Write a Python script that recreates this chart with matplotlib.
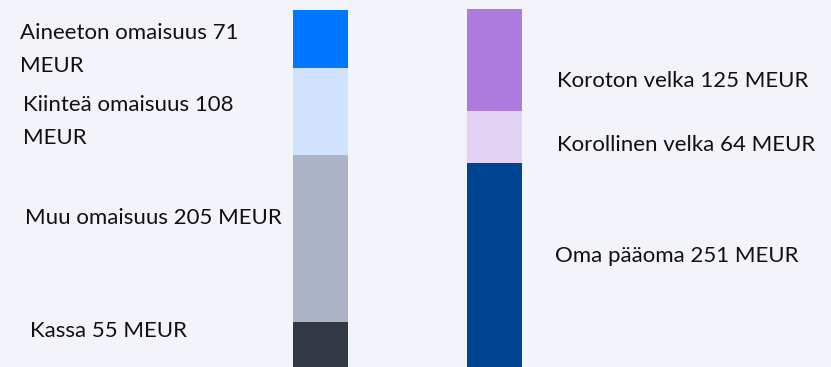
import matplotlib
matplotlib.use('Agg')
import matplotlib.pyplot as plt

# Balance sheet split, MEUR
assets = ['Kassa', 'Muu omaisuus', 'Kiinteä omaisuus', 'Aineeton omaisuus']
asset_values = [55, 205, 108, 71]
asset_colors = ['#323844', '#adb3c6', '#cfe3ff', '#0077ff']

liabilities = ['Oma pääoma', 'Korollinen velka', 'Koroton velka']
liability_values = [251, 64, 125]
liability_colors = ['#004592', '#e4d2f4', '#ad7ae0']

bg = '#f3f4f9'
W, H = 831, 367

fig = plt.figure(figsize=(W / 100, H / 100), dpi=100, facecolor=bg)
ax = fig.add_axes([0, 0, 1, 1])
ax.set_facecolor(bg)
ax.axis('off')

# bar centres at 320.5 px and 494.5 px, 55 px wide
step = 174.0
bar_w = 55 / step
ax.set_xlim(-320.5 / step, 1 + (W - 494.5) / step)
ax.set_ylim(0, 451)

def stack(x, names, values, colors):
    bottom = 0
    for n, v, c in zip(names, values, colors):
        ax.bar(x, v, bar_w, bottom=bottom, color=c, linewidth=0)
        bottom += v

stack(0, assets, asset_values, asset_colors)
stack(1, liabilities, liability_values, liability_colors)

# label anchors (pixel x, data y)
asset_label_x = [30, 25, 23, 20]
asset_label_y = [44, 183, 302, 390]
asset_label_wrap = [False, False, True, True]
liab_label_x = [555, 557, 557]
liab_label_y = [136, 273, 352]

font = dict(family=['Lato', 'DejaVu Sans'], fontsize=16, color='#111111', va='center', ha='left')

def px_to_data(px):
    return -320.5 / step + px / step

for n, v, x, y, wrap in zip(assets, asset_values, asset_label_x, asset_label_y, asset_label_wrap):
    label = f'{n} {v}' + ('\nMEUR' if wrap else ' MEUR')
    ax.text(px_to_data(x), y, label, linespacing=1.8, **font)

for n, v, x, y in zip(liabilities, liability_values, liab_label_x, liab_label_y):
    ax.text(px_to_data(x), y, f'{n} {v} MEUR', **font)

fig.savefig('out.png', dpi=100, facecolor=bg)
